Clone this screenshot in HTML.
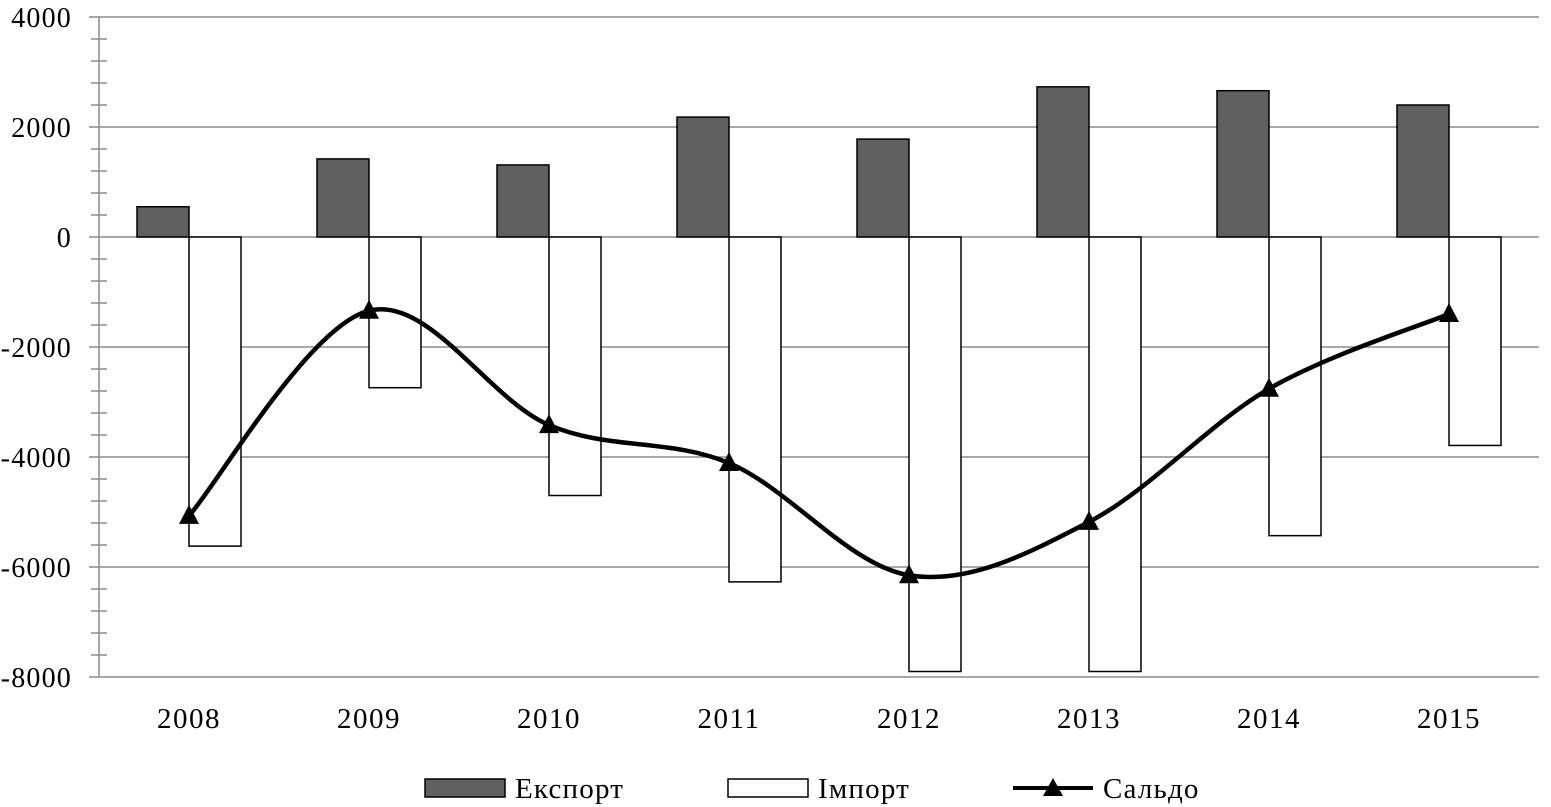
<!DOCTYPE html>
<html><head><meta charset="utf-8"><style>
html,body{margin:0;padding:0;background:#fff;}
svg{display:block;font-family:"Liberation Serif",serif;}
</style></head><body>
<svg id="chart" width="1551" height="807" xmlns="http://www.w3.org/2000/svg">
<g id="grid"></g>
<g id="bars"></g>
<g id="axis"></g>
<g id="line"></g>
<g id="xlabels"></g>
<g>
  <g>
    <rect x="425" y="779" width="80" height="18" fill="#606060" stroke="#000" stroke-width="1.5"/>
    <text x="515" y="798" font-size="29" letter-spacing="1.2">Експорт</text>
  </g>
  <g>
    <rect x="728" y="779" width="80" height="18" fill="#fff" stroke="#000" stroke-width="1.5"/>
    <text x="818" y="798" font-size="29" letter-spacing="1.2">Імпорт</text>
  </g>
  <g>
    <line x1="1013" y1="788" x2="1093" y2="788" stroke="#000" stroke-width="4"/>
    <polygon points="1053,778 1063,796 1043,796" fill="#000"/>
    <text x="1103" y="798" font-size="29" letter-spacing="1.2">Сальдо</text>
  </g>
</g>
</svg>
<script>
const years=["2008","2009","2010","2011","2012","2013","2014","2015"];
const exportVals=[550,1420,1310,2180,1780,2730,2660,2400];
const importVals=[-5620,-2740,-4700,-6270,-7900,-7900,-5430,-3790];
const saldoVals=[-5070,-1340,-3420,-4110,-6150,-5180,-2760,-1400];
const yTicks=[4000,2000,0,-2000,-4000,-6000,-8000];

const NS="http://www.w3.org/2000/svg";
const L=99,R=1539,T=17,B=677,ymax=4000,ymin=-8000;
const band=(R-L)/years.length,bw=52;
const y=v=>T+(ymax-v)/(ymax-ymin)*(B-T);
const xc=i=>L+band*(i+0.5);
function mk(tag,attrs,parent){const e=document.createElementNS(NS,tag);for(const k in attrs)e.setAttribute(k,attrs[k]);parent.appendChild(e);return e;}
const grid=document.getElementById('grid'),bars=document.getElementById('bars'),axis=document.getElementById('axis'),line=document.getElementById('line'),xl=document.getElementById('xlabels');

yTicks.forEach(t=>{
  const g=mk('line',{x1:89,x2:R,y1:y(t),y2:y(t),stroke:'#8c8c8c','stroke-width':1.5},grid);
  
  
  const tx=mk('text',{x:72,y:y(t)+10,'text-anchor':'end','font-size':28,'letter-spacing':1.2},axis);
  tx.textContent=t;
  
  
});
for(let v=ymin;v<=ymax;v+=400){
  if(v%2000===0)continue;
  mk('line',{x1:91,x2:107,y1:y(v),y2:y(v),stroke:'#8c8c8c','stroke-width':1.5},axis);
}
mk('line',{x1:L,x2:L,y1:T,y2:B,stroke:'#8c8c8c','stroke-width':1.5},axis);

years.forEach((yr,i)=>{
  const c=xc(i);
  const e=mk('rect',{x:c-bw,y:y(exportVals[i]),width:bw,height:y(0)-y(exportVals[i]),fill:'#606060',stroke:'#000','stroke-width':1.5},bars);
  
  
  const m=mk('rect',{x:c,y:y(0),width:bw,height:y(importVals[i])-y(0),fill:'#fff',stroke:'#000','stroke-width':1.5},bars);
  
  
  const t=mk('text',{x:c,y:728,'text-anchor':'middle','font-size':29,'letter-spacing':1.5},xl);
  t.textContent=yr;
  
  
});

const pts=saldoVals.map((v,i)=>[xc(i),y(v)]);
let d='M'+pts[0][0]+','+pts[0][1];
const k=1/6;
for(let i=0;i<pts.length-1;i++){
  const p0=pts[Math.max(i-1,0)],p1=pts[i],p2=pts[i+1],p3=pts[Math.min(i+2,pts.length-1)];
  const c1=[p1[0]+(p2[0]-p0[0])*k,p1[1]+(p2[1]-p0[1])*k];
  const c2=[p2[0]-(p3[0]-p1[0])*k,p2[1]-(p3[1]-p1[1])*k];
  d+=' C'+c1+' '+c2+' '+p2;
}
const path=mk('path',{d:d,fill:'none',stroke:'#000','stroke-width':4.5},line);


pts.forEach((p,i)=>{
  const m=mk('polygon',{points:`${p[0]},${p[1]-11} ${p[0]+10},${p[1]+8} ${p[0]-10},${p[1]+8}`,fill:'#000'},line);
  
  
});
</script>
</body></html>
